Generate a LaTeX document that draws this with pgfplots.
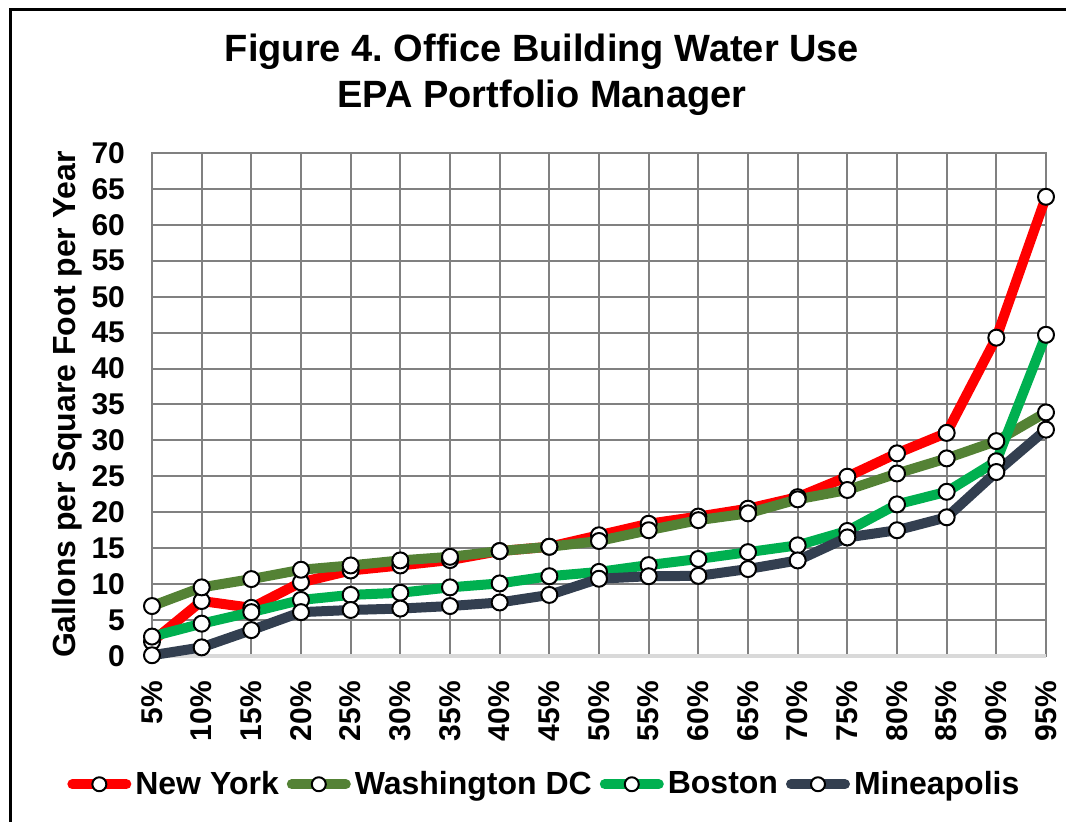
\documentclass[border=0pt]{standalone}
\usepackage{fontspec}
\setmainfont{Liberation Sans}
\usepackage{pgfplots}
\pgfplotsset{compat=1.18}
\definecolor{nyred}{RGB}{255,0,0}
\definecolor{dcgreen}{RGB}{84,130,53}
\definecolor{bosgreen}{RGB}{0,176,80}
\definecolor{minnavy}{RGB}{51,63,80}
\definecolor{gridgray}{RGB}{128,128,128}
\definecolor{basegray}{RGB}{217,217,217}

\pgfplotsset{
  city/.style={#1, line width=5pt, line join=round, line cap=round,
    mark=*, mark size=4pt,
    mark options={fill=white, draw=black, line width=1pt, solid}},
}

\begin{document}
\frenchspacing
\begin{tikzpicture}
\useasboundingbox (0,0) rectangle (533pt,411pt);
\draw[black, line width=1.5pt] (5pt,0) -- (5pt,406pt) -- (533pt,406pt);
\node[align=center, font=\fontsize{19}{23}\selectfont\bfseries] at (271pt,373.5pt)
  {Figure 4.\ Office Building Water Use\\EPA Portfolio Manager};
\begin{axis}[
    at={(76pt,83pt)}, anchor=south west,
    scale only axis, width=447pt, height=251.5pt,
    xmin=0, xmax=18, ymin=0, ymax=70,
    xtick={0,...,18},
    xticklabels={5\%,10\%,15\%,20\%,25\%,30\%,35\%,40\%,45\%,50\%,55\%,60\%,65\%,70\%,75\%,80\%,85\%,90\%,95\%},
    ytick={0,5,...,70},
    x tick label style={rotate=90, anchor=east},
    xticklabel shift=9pt,
    yticklabel shift=10pt,
    tick label style={font=\fontsize{15}{15}\selectfont\bfseries},
    /pgf/number format/assume math mode=true,
    major tick length=0pt,
    grid=major,
    major grid style={draw=gridgray, line width=1pt},
    axis line style={draw=gridgray, line width=1pt},
    ylabel={Gallons per Square Foot per Year},
    ylabel style={font=\fontsize{16}{16}\selectfont\bfseries, yshift=-2pt},
    legend columns=4,
    legend style={at={(0.44,-0.255)}, anchor=center, draw=none, fill=none,
      font=\fontsize{16}{16}\selectfont\bfseries,
      /tikz/every even column/.append style={column sep=2pt}},
    legend image code/.code={
      \draw[#1, mark=none] (0pt,0pt) -- (27pt,0pt);
      \draw[#1, draw=none, mark size=3.5pt] plot coordinates {(13.5pt,0pt)};
    },
    clip=false,
]
\draw[basegray, line width=2pt] (axis cs:0,0) -- (axis cs:18,0);
\addplot[city=nyred] coordinates {
  (0,2.0) (1,7.65) (2,6.7) (3,10.25) (4,11.9) (5,12.6) (6,13.35) (7,14.6) (8,15.2)
  (9,16.8) (10,18.4) (11,19.4) (12,20.5) (13,22.1) (14,24.95) (15,28.2) (16,31.05)
  (17,44.3) (18,63.9)};
\addplot[city=dcgreen] coordinates {
  (0,6.95) (1,9.55) (2,10.7) (3,12.0) (4,12.6) (5,13.3) (6,13.8) (7,14.6) (8,15.2)
  (9,16.0) (10,17.5) (11,18.9) (12,19.85) (13,21.8) (14,23.1) (15,25.4) (16,27.5)
  (17,29.9) (18,33.9)};
\addplot[city=bosgreen] coordinates {
  (0,2.7) (1,4.5) (2,6.1) (3,7.8) (4,8.5) (5,8.8) (6,9.55) (7,10.1) (8,11.1)
  (9,11.7) (10,12.65) (11,13.5) (12,14.45) (13,15.4) (14,17.4) (15,21.1) (16,22.85)
  (17,27.1) (18,44.7)};
\addplot[city=minnavy] coordinates {
  (0,0.1) (1,1.2) (2,3.6) (3,6.1) (4,6.4) (5,6.6) (6,6.95) (7,7.45) (8,8.5)
  (9,10.75) (10,11.1) (11,11.15) (12,12.1) (13,13.3) (14,16.5) (15,17.5) (16,19.3)
  (17,25.6) (18,31.5)};
\legend{New York, Washington DC, Boston, Mineapolis}
\end{axis}
\end{tikzpicture}
\end{document}
